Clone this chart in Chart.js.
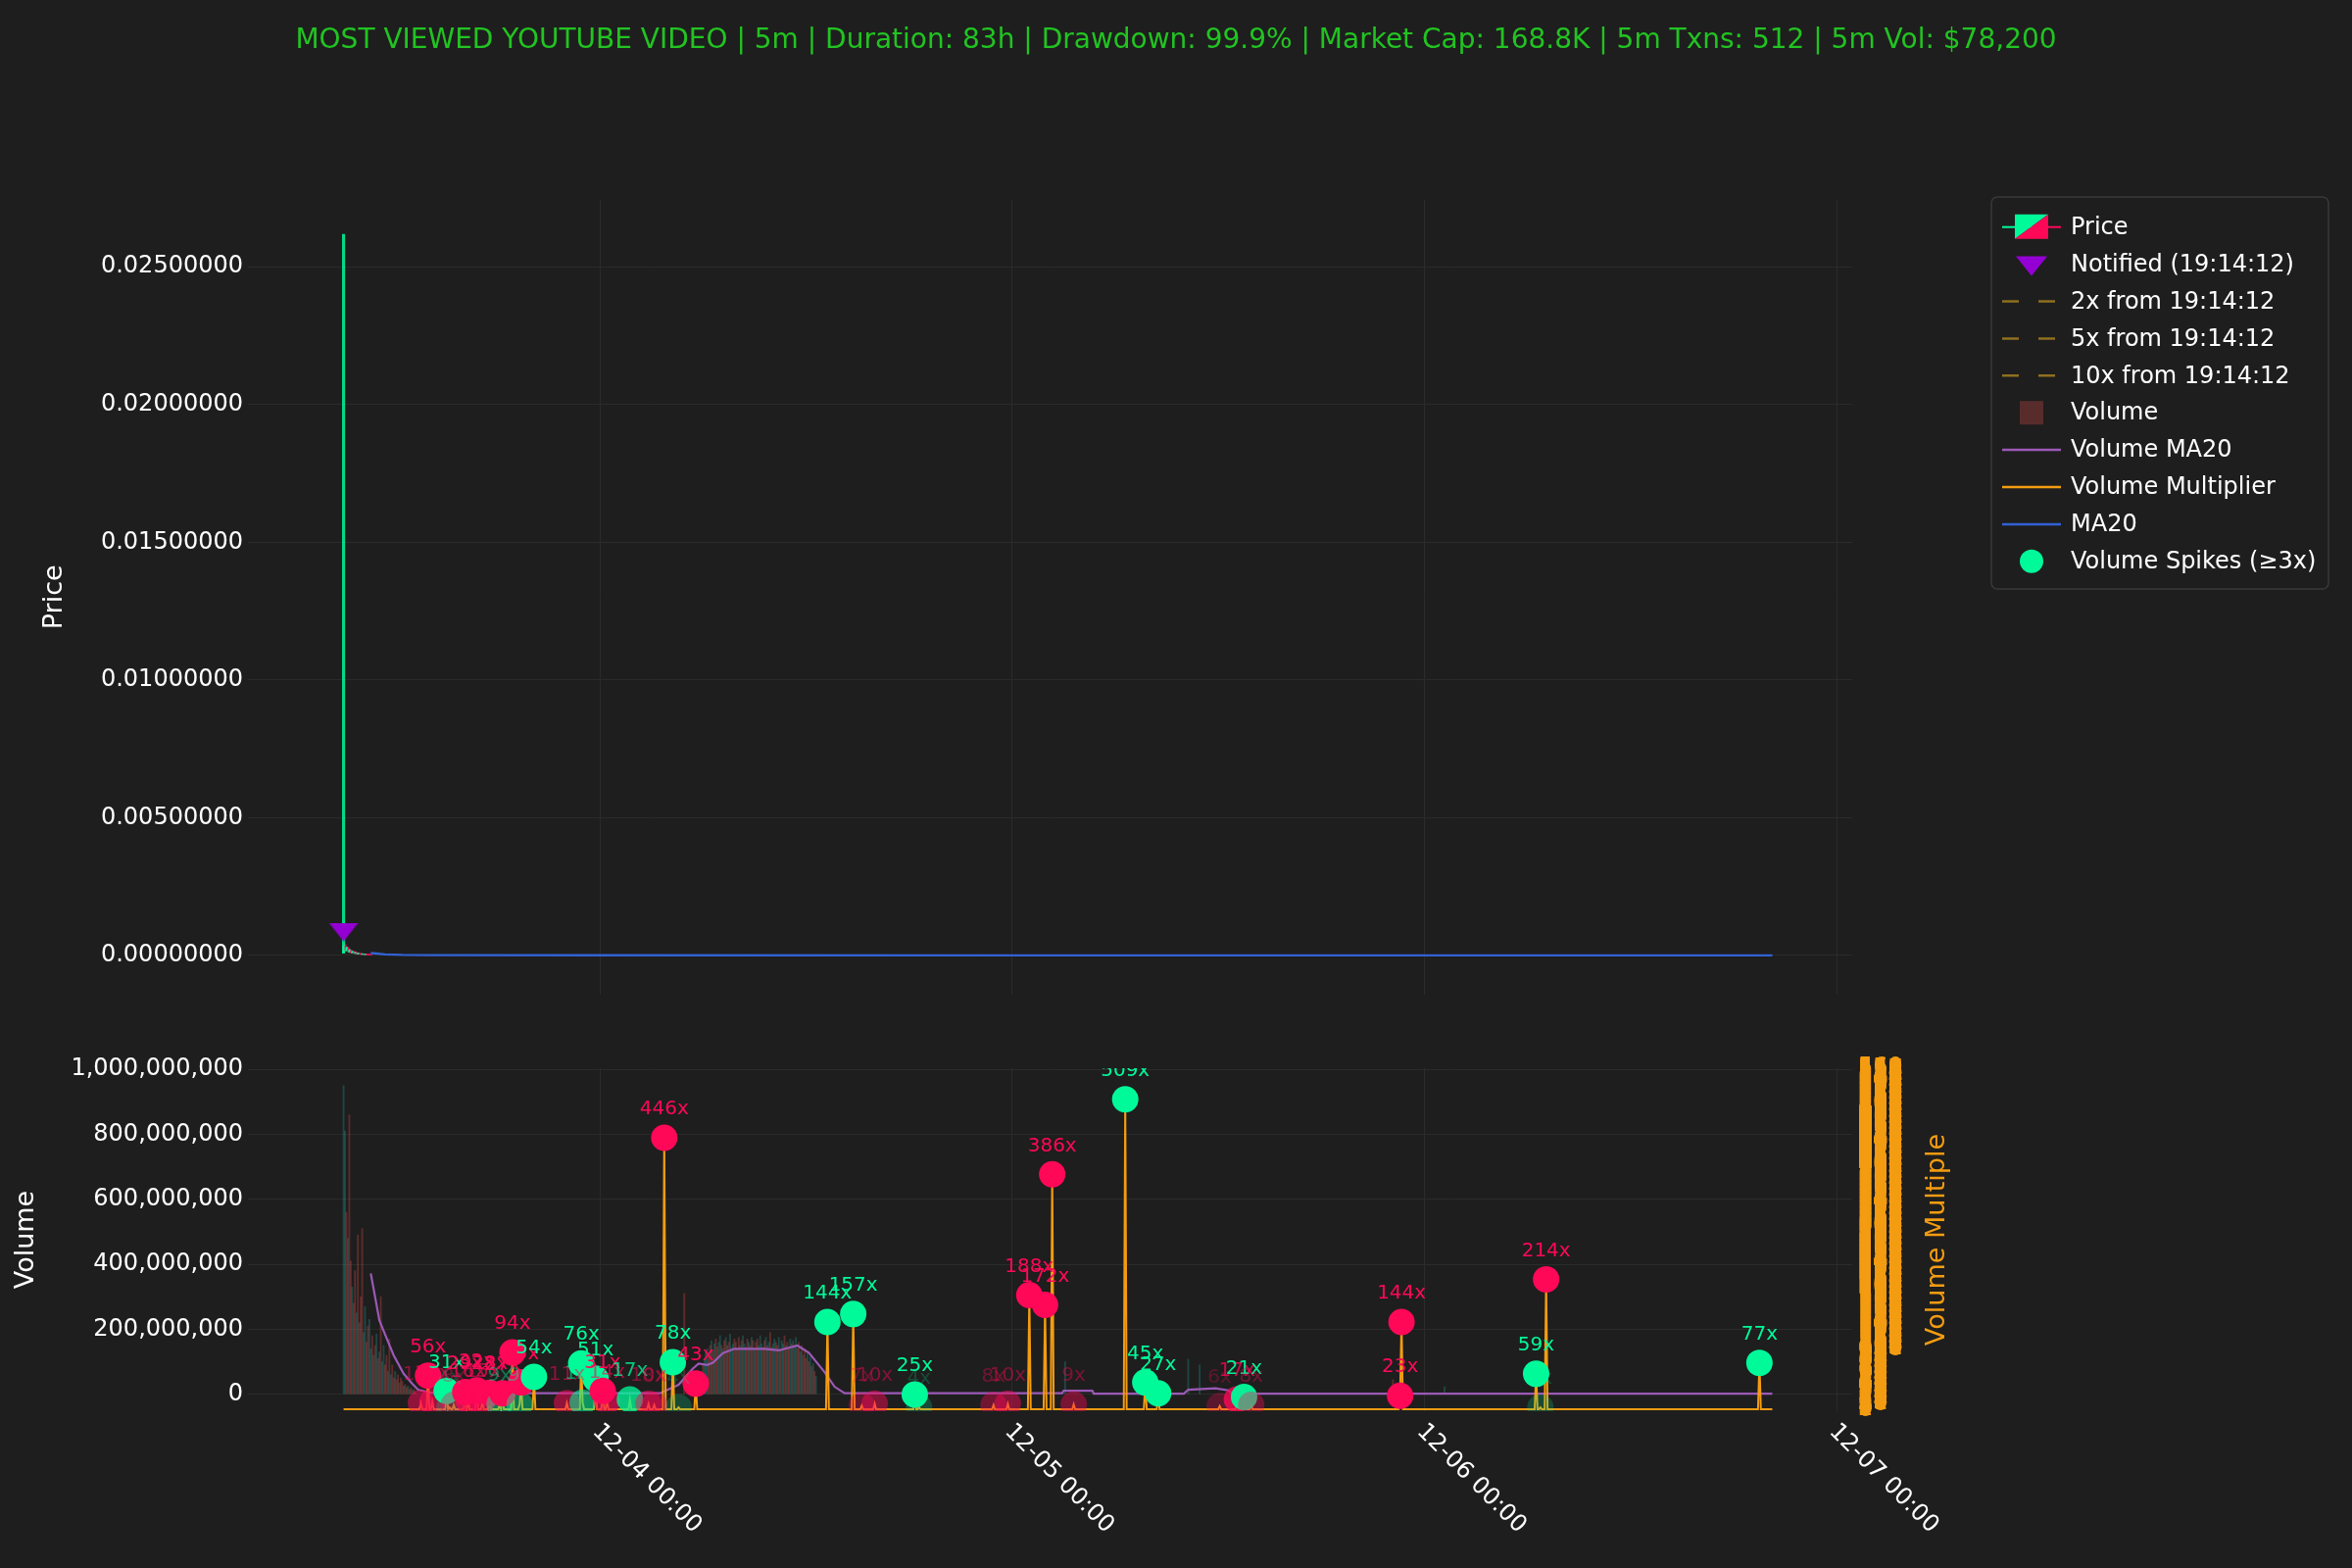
<!DOCTYPE html>
<html>
<head>
<meta charset="utf-8">
<script src="https://cdn.jsdelivr.net/npm/chart.js@4.4.1/dist/chart.umd.min.js"></script>
<style>
  html, body { margin: 0; padding: 0; background: #1e1e1e; }
  #wrap { position: relative; width: 2400px; height: 1600px; }
  #c1 { position: absolute; left: 0; top: 0; width: 2400px; height: 1050px; }
  #c2 { position: absolute; left: 0; top: 1050px; width: 2400px; height: 550px; }
</style>
</head>
<body>
<div id="wrap">
  <canvas id="c1" width="2400" height="1050"></canvas>
  <canvas id="c2" width="2400" height="550"></canvas>
</div>
<script>
// ------------------------------------------------------------------ data
const titleText = 'MOST VIEWED YOUTUBE VIDEO | 5m | Duration: 83h | Drawdown: 99.9% | Market Cap: 168.8K | 5m Txns: 512 | 5m Vol: $78,200';

const timeRange   = ['2024-12-03T03:31', '2024-12-07T00:54'];
const priceRange  = [-0.001424, 0.02744];
const volumeRange = [-52.2e6, 1003.6e6];
const multRange   = [-2.25, 560];

// price candles, 5-minute, starting at candleStart
const candleStart = '2024-12-03T09:05';
const candleOpen  = [0.00010,0.00034,0.00020,0.00027,0.00015,0.00019,0.00011,0.00014,0.00009,0.00010,0.00007,0.00008,0.00006,0.00005,0.00006,0.00004,0.000045,0.00004,0.000035,0.00003];
const candleHigh  = [0.02618,0.00040,0.00031,0.00029,0.00022,0.00020,0.00016,0.00015,0.00012,0.00011,0.00009,0.00008,0.00007,0.00007,0.00006,0.00005,0.00005,0.000045,0.00004,0.000035];
const candleLow   = [0.00008,0.00018,0.00016,0.00014,0.00012,0.00010,0.00009,0.00008,0.00007,0.00006,0.00005,0.00005,0.00004,0.00004,0.00004,0.00003,0.00003,0.00003,0.000025,0.00002];
const candleClose = [0.00034,0.00020,0.00027,0.00015,0.00019,0.00011,0.00014,0.00009,0.00010,0.00007,0.00008,0.00006,0.00005,0.00006,0.00004,0.000045,0.00004,0.000035,0.00003,0.000025];

// price MA20
const priceMaTimes  = ['2024-12-03T10:40','2024-12-03T11:00','2024-12-03T11:30','2024-12-03T12:30','2024-12-03T14:00','2024-12-04T00:00','2024-12-05T00:00','2024-12-06T00:00','2024-12-06T20:15'];
const priceMaValues = [0.00009,0.00007,0.00004,0.00002,0.000012,0.000008,0.000005,0.000004,0.000003];

// notification marker
const notifiedTime  = '2024-12-03T09:05';
const notifiedPrice = 0.00085;

// volume bars: early burst (5-minute)
const volStartA  = '2024-12-03T09:05';
const volValuesA = [950e6,810e6,560e6,480e6,860e6,410e6,330e6,280e6,380e6,250e6,
                    490e6,220e6,300e6,510e6,190e6,270e6,160e6,210e6,230e6,140e6,
                    180e6,120e6,150e6,185e6,110e6,130e6,300e6,100e6,150e6,90e6,
                    120e6,70e6,170e6,60e6,90e6,50e6,70e6,45e6,60e6,35e6,
                    50e6,40e6,25e6,30e6,20e6,25e6,15e6,20e6,12e6,15e6,10e6];
const volSidesA  = 'ggrgrrgrrg' + 'rgrrggrrgg' + 'rgrgrgrggr' + 'rgrgrrgrrg' + 'rrgrrgrrgrr';

// volume bars: plateau (5-minute)
const volStartC  = '2024-12-04T05:55';
const volValuesC = [70e6,95e6,110e6,128e6,140e6,120e6,150e6,165e6,135e6,155e6,
                    170e6,145e6,160e6,180e6,150e6,140e6,165e6,175e6,150e6,160e6,
                    185e6,145e6,155e6,170e6,160e6,140e6,175e6,150e6,165e6,180e6,
                    155e6,145e6,170e6,160e6,150e6,175e6,165e6,140e6,160e6,170e6,
                    150e6,180e6,155e6,145e6,165e6,175e6,150e6,160e6,190e6,145e6,
                    155e6,170e6,160e6,150e6,175e6,140e6,165e6,155e6,180e6,150e6,
                    160e6,145e6,170e6,155e6,165e6,150e6,175e6,140e6,160e6,130e6,
                    150e6,120e6,140e6,110e6,130e6,100e6,115e6,85e6,95e6,70e6,
                    55e6];
const volSidesC  = 'grgggrrgrg' + 'rrggrgrgrr' + 'gggrrgrgrg' + 'grrgrgrgrr' + 'gggrrgrgrr' + 'ggrrgrggrg' + 'rrgrgggrrg' + 'rgrrgrgrgr' + 'g';

// isolated volume bars
const volExtraTimes  = ['2024-12-04T04:55','2024-12-05T03:05','2024-12-05T10:15','2024-12-05T10:55','2024-12-05T22:10','2024-12-06T01:10'];
const volExtraValues = [310e6,100e6,108e6,90e6,45e6,23e6];
const volExtraSides  = 'rgggrg';

// volume MA20
const volMaTimes  = ['2024-12-03T10:40','2024-12-03T11:10','2024-12-03T11:25','2024-12-03T12:00','2024-12-03T12:35','2024-12-03T13:05','2024-12-03T13:25','2024-12-03T14:10','2024-12-03T20:30',
                     '2024-12-04T03:30','2024-12-04T04:35','2024-12-04T05:25','2024-12-04T05:45','2024-12-04T06:15','2024-12-04T06:35','2024-12-04T07:10','2024-12-04T07:50','2024-12-04T09:35','2024-12-04T10:25','2024-12-04T11:30','2024-12-04T12:10','2024-12-04T13:05','2024-12-04T13:40','2024-12-04T14:15',
                     '2024-12-05T02:55','2024-12-05T03:00','2024-12-05T04:40','2024-12-05T04:45','2024-12-05T10:00','2024-12-05T10:15','2024-12-05T11:50','2024-12-05T12:35','2024-12-05T12:50','2024-12-06T20:15'];
const volMaValues = [372e6,228e6,195e6,120e6,63e6,32e6,14e6,5e6,3e6,
                     3e6,29e6,79e6,94e6,90e6,97e6,127e6,140e6,140e6,135e6,150e6,128e6,68e6,23e6,3e6,
                     3e6,11e6,11e6,2e6,2e6,14e6,18e6,12e6,2e6,2e6];

// volume spikes (multiplier, side r = down candle, g = up candle)
const spikeTimes = ['2024-12-03T13:35','2024-12-03T14:00','2024-12-03T14:15','2024-12-03T15:05','2024-12-03T15:15','2024-12-03T15:30','2024-12-03T16:10','2024-12-03T16:20','2024-12-03T16:50','2024-12-03T17:10',
                    '2024-12-03T17:35','2024-12-03T18:10','2024-12-03T18:20','2024-12-03T18:55','2024-12-03T19:20','2024-12-03T19:25','2024-12-03T20:10','2024-12-03T22:05','2024-12-03T22:55','2024-12-03T23:00',
                    '2024-12-03T23:45','2024-12-04T00:10','2024-12-04T00:25','2024-12-04T01:45','2024-12-04T02:50','2024-12-04T03:10','2024-12-04T03:45','2024-12-04T04:15','2024-12-04T04:35','2024-12-04T05:35',
                    '2024-12-04T13:15','2024-12-04T14:45','2024-12-04T15:15','2024-12-04T16:00','2024-12-04T18:20','2024-12-04T18:35','2024-12-04T22:55','2024-12-04T23:45','2024-12-05T01:00','2024-12-05T01:55',
                    '2024-12-05T02:20','2024-12-05T03:35','2024-12-05T06:35','2024-12-05T07:45','2024-12-05T08:30','2024-12-05T12:05','2024-12-05T13:05','2024-12-05T13:30','2024-12-05T13:55','2024-12-05T22:35',
                    '2024-12-05T22:40','2024-12-06T06:30','2024-12-06T06:45','2024-12-06T07:05','2024-12-06T19:30'];
const spikeMults = [11,56,13,31,4,8,29,16,32,15,
                    28,9,27,94,9,45,54,11,76,12,
                    51,31,14,17,10,8,446,78,4,43,
                    144,157,7,10,25,4,8,10,188,172,
                    386,9,509,45,27,6,17,21,8,23,
                    144,59,4,214,77];
const spikeSides = 'rrrggrrrrr' + 'rgrrgrgrgg' + 'grrgrrrggr' + 'ggrrggrrrr' + 'rrgggrrgrr' + 'rggrg';

// multiplier line rests on this value between spikes
const multBaseline = 1;
const multEnds = ['2024-12-03T09:05', '2024-12-06T20:15'];

const legendLabels = ['Price', 'Notified (19:14:12)', '2x from 19:14:12', '5x from 19:14:12', '10x from 19:14:12',
                      'Volume', 'Volume MA20', 'Volume Multiplier', 'MA20', 'Volume Spikes (\u22653x)'];

// ------------------------------------------------------------------ styles / helpers
const HOUR = 3600000, FIVE_MIN_H = 5 / 60, MILLION = 1e6;
const EPOCH = Date.parse('2024-12-03T00:00:00Z');
const H = s => (Date.parse(s + ':00Z') - EPOCH) / HOUR;   // hours since 12-03 00:00 UTC
const GRID = '#2b2b2b';
const FONT = '"DejaVu Sans", sans-serif';
const C_GREEN = [0, 250, 154], C_RED = [255, 8, 88];
const col = (c, a) => `rgba(${c[0]},${c[1]},${c[2]},${a})`;
const VOL_G = 'rgba(38,166,154,0.30)', VOL_R = 'rgba(239,83,80,0.30)';
const ORANGE = '#f39c12', PURPLE = '#9b59b6', BLUE = 'rgba(52,101,221,0.95)';
const DASHC = 'rgba(218,165,32,0.6)';
const TRI_COLOR = '#9400d3';

Chart.defaults.font.family = FONT;
Chart.defaults.color = '#ffffff';

function fmtDay(hours) {
  const d = new Date(EPOCH + hours * HOUR);
  const p = n => String(n).padStart(2, '0');
  return `${p(d.getUTCMonth() + 1)}-${p(d.getUTCDate())} ${p(d.getUTCHours())}:${p(d.getUTCMinutes())}`;
}

function triImage(w, h, color) {
  const c = document.createElement('canvas');
  c.width = w; c.height = h;
  const g = c.getContext('2d');
  g.fillStyle = color;
  g.beginPath(); g.moveTo(0, 0); g.lineTo(w, 0); g.lineTo(w / 2, h); g.closePath(); g.fill();
  return c;
}

// ------------------------------------------------------------------ price chart
const candles = candleOpen.map((o, i) => ({x: H(candleStart) + i * FIVE_MIN_H, o, h: candleHigh[i], l: candleLow[i], c: candleClose[i]}));
const upC = candles.filter(c => c.c >= c.o), dnC = candles.filter(c => c.c < c.o);

const legendPlugin = {
  id: 'customLegend',
  afterDraw(chart) {
    const ctx = chart.ctx;
    const bx = 2032, by = 201, bw = 344, bh = 400;
    ctx.save();
    ctx.beginPath();
    if (ctx.roundRect) ctx.roundRect(bx, by, bw, bh, 6); else ctx.rect(bx, by, bw, bh);
    ctx.fillStyle = '#1e1e1e'; ctx.fill();
    ctx.lineWidth = 1.5; ctx.strokeStyle = 'rgba(255,255,255,0.12)'; ctx.stroke();
    const y0 = 231.7, dy = 37.9, lx0 = 2043, lx1 = 2103, cx = 2073, tx = 2113;
    legendLabels.forEach((lab, k) => {
      const y = y0 + k * dy;
      ctx.save();
      if (k === 0) {
        ctx.lineWidth = 2;
        ctx.strokeStyle = col(C_GREEN, 1); ctx.beginPath(); ctx.moveTo(lx0, y); ctx.lineTo(cx, y); ctx.stroke();
        ctx.strokeStyle = col(C_RED, 1); ctx.beginPath(); ctx.moveTo(cx, y); ctx.lineTo(lx1, y); ctx.stroke();
        const x = 2056, t = y - 13, w = 34, h = 25;
        ctx.fillStyle = col(C_GREEN, 1); ctx.beginPath(); ctx.moveTo(x, t); ctx.lineTo(x + w, t); ctx.lineTo(x, t + h); ctx.closePath(); ctx.fill();
        ctx.fillStyle = col(C_RED, 1); ctx.beginPath(); ctx.moveTo(x + w, t); ctx.lineTo(x + w, t + h); ctx.lineTo(x, t + h); ctx.closePath(); ctx.fill();
      } else if (k === 1) {
        ctx.fillStyle = TRI_COLOR; ctx.beginPath(); ctx.moveTo(cx - 16, y - 8); ctx.lineTo(cx + 16, y - 8); ctx.lineTo(cx, y + 12); ctx.closePath(); ctx.fill();
      } else if (k >= 2 && k <= 4) {
        ctx.strokeStyle = DASHC; ctx.lineWidth = 2.5; ctx.setLineDash([17, 20]);
        ctx.beginPath(); ctx.moveTo(lx0, y); ctx.lineTo(lx1, y); ctx.stroke();
      } else if (k === 5) {
        ctx.fillStyle = 'rgba(239,83,80,0.28)'; ctx.fillRect(2061, y - 12, 24, 24);
      } else if (k === 9) {
        ctx.fillStyle = col(C_GREEN, 1); ctx.beginPath(); ctx.arc(cx, y, 12, 0, Math.PI * 2); ctx.fill();
      } else {
        ctx.strokeStyle = k === 6 ? PURPLE : k === 7 ? ORANGE : BLUE; ctx.lineWidth = 2.5;
        ctx.beginPath(); ctx.moveTo(lx0, y); ctx.lineTo(lx1, y); ctx.stroke();
      }
      ctx.restore();
      ctx.fillStyle = '#ffffff'; ctx.font = '24px ' + FONT; ctx.textAlign = 'left'; ctx.textBaseline = 'middle';
      ctx.fillText(lab, tx, y + 1);
    });
    ctx.restore();
  }
};

new Chart(document.getElementById('c1'), {
  type: 'scatter',
  data: {
    datasets: [
      {type: 'bar', label: 'Price', data: upC.map(c => ({x: c.x, y: [c.l, c.h]})), backgroundColor: col(C_GREEN, 0.85), barThickness: 2.5, grouped: false, order: 6},
      {type: 'bar', label: 'Price wick down', data: dnC.map(c => ({x: c.x, y: [c.l, c.h]})), backgroundColor: col(C_RED, 0.85), barThickness: 2.5, grouped: false, order: 6},
      {type: 'bar', label: 'Price body up', data: upC.map(c => ({x: c.x, y: [c.o, c.c]})), backgroundColor: col(C_GREEN, 1), barThickness: 1.4, grouped: false, order: 5},
      {type: 'bar', label: 'Price body down', data: dnC.map(c => ({x: c.x, y: [c.c, c.o]})), backgroundColor: col(C_RED, 1), barThickness: 1.4, grouped: false, order: 5},
      {type: 'line', label: 'MA20', data: priceMaTimes.map((t, i) => ({x: H(t), y: priceMaValues[i]})), borderColor: BLUE, borderWidth: 2.4, pointRadius: 0, order: 2},
      {type: 'scatter', label: 'Notified (19:14:12)', data: [{x: H(notifiedTime), y: notifiedPrice}], pointStyle: triImage(30, 19, TRI_COLOR), pointRadius: 15, order: 1},
      {type: 'line', label: '2x from 19:14:12', data: [], borderColor: DASHC, borderDash: [8, 8]},
      {type: 'line', label: '5x from 19:14:12', data: [], borderColor: DASHC, borderDash: [8, 8]},
      {type: 'line', label: '10x from 19:14:12', data: [], borderColor: DASHC, borderDash: [8, 8]}
    ]
  },
  options: {
    responsive: false, devicePixelRatio: 1, animation: false, events: [],
    layout: {padding: 0},
    plugins: {
      legend: {display: false}, tooltip: {enabled: false},
      title: {display: true, text: titleText, color: '#22c322', font: {size: 28, weight: 'normal'}, padding: {top: 25, bottom: 145}}
    },
    scales: {
      x: {type: 'linear', min: H(timeRange[0]), max: H(timeRange[1]), offset: false,
          border: {display: false}, grid: {color: GRID, drawTicks: false, offset: false},
          ticks: {display: false, stepSize: 24, includeBounds: false},
          afterFit: s => { s.height = 35; }},
      y: {type: 'linear', position: 'left', min: priceRange[0], max: priceRange[1],
          border: {display: false}, grid: {color: GRID, drawTicks: false},
          ticks: {stepSize: 0.005, includeBounds: false, padding: 5, font: {size: 24}, color: '#ffffff', callback: v => Number(v).toFixed(8)},
          title: {display: true, text: 'Price', color: '#ffffff', font: {size: 27}, padding: {top: 40, bottom: 0}},
          afterFit: s => { s.width = 253; }},
      yr: {type: 'linear', position: 'right', display: true, grid: {display: false, drawTicks: false}, border: {display: false},
           ticks: {display: false}, afterFit: s => { s.width = 510; }}
    }
  },
  plugins: [legendPlugin]
});

// ------------------------------------------------------------------ volume chart (volume axis in millions)
const volBars = [];
volValuesA.forEach((v, i) => volBars.push({x: H(volStartA) + i * FIVE_MIN_H, y: v / MILLION, s: volSidesA[i]}));
volValuesC.forEach((v, i) => volBars.push({x: H(volStartC) + i * FIVE_MIN_H, y: v / MILLION, s: volSidesC[i]}));
volExtraTimes.forEach((t, i) => volBars.push({x: H(t), y: volExtraValues[i] / MILLION, s: volExtraSides[i]}));

const spikeAlpha = m => Math.min(1, Math.max(0.2, m / 22));
const spikeColor = i => col(spikeSides[i] === 'g' ? C_GREEN : C_RED, spikeAlpha(spikeMults[i]));
const spikePts = spikeTimes.map((t, i) => ({x: H(t), y: spikeMults[i]}));

const key = x => Math.round(x * 12);
const spikeSet = new Set(spikePts.map(p => key(p.x)));
const multMap = new Map();
multEnds.forEach(t => multMap.set(key(H(t)), {x: H(t), y: multBaseline}));
spikePts.forEach(p => {
  [p.x - FIVE_MIN_H, p.x + FIVE_MIN_H].forEach(b => {
    if (!spikeSet.has(key(b)) && !multMap.has(key(b))) multMap.set(key(b), {x: b, y: multBaseline});
  });
});
spikePts.forEach(p => multMap.set(key(p.x), {x: p.x, y: p.y}));
const multLine = [...multMap.values()].sort((a, b) => a.x - b.x);

const SPIKE_IDX = 4;
const volPlugin = {
  id: 'volExtras',
  afterDatasetsDraw(chart) {
    const {ctx, chartArea: a} = chart;
    const meta = chart.getDatasetMeta(SPIKE_IDX);
    ctx.save();
    ctx.beginPath(); ctx.rect(a.left, a.top, a.right - a.left, a.bottom - a.top); ctx.clip();
    ctx.font = '20px ' + FONT; ctx.textAlign = 'center'; ctx.textBaseline = 'middle';
    meta.data.forEach((pt, i) => {
      ctx.fillStyle = spikeColor(i);
      ctx.fillText(spikeMults[i] + 'x', pt.x, pt.y - 29);
    });
    ctx.restore();
  },
  afterDraw(chart) {
    const {ctx, chartArea: a} = chart;
    const xs = chart.scales.x;
    ctx.save();
    ctx.font = '24px ' + FONT; ctx.fillStyle = '#ffffff'; ctx.textAlign = 'left'; ctx.textBaseline = 'middle';
    xs.ticks.forEach(t => {
      const px = xs.getPixelForValue(t.value);
      ctx.save();
      ctx.translate(px - 4, a.bottom + 17);
      ctx.rotate(Math.PI / 4);
      ctx.fillText(fmtDay(t.value), 0, 0);
      ctx.restore();
    });
    ctx.save();
    ctx.translate(1977, (a.top + a.bottom) / 2);
    ctx.rotate(-Math.PI / 2);
    ctx.font = '27px ' + FONT; ctx.fillStyle = ORANGE; ctx.textAlign = 'center'; ctx.textBaseline = 'middle';
    ctx.fillText('Volume Multiple', 0, 0);
    ctx.restore();
    ctx.restore();
  }
};

new Chart(document.getElementById('c2'), {
  type: 'scatter',
  data: {
    datasets: [
      {type: 'bar', label: 'Volume', yAxisID: 'yv', data: volBars.filter(b => b.s === 'r'), backgroundColor: VOL_R, barThickness: 1.2, grouped: false, order: 7},
      {type: 'bar', label: 'Volume up', yAxisID: 'yv', data: volBars.filter(b => b.s === 'g'), backgroundColor: VOL_G, barThickness: 1.2, grouped: false, order: 7},
      {type: 'line', label: 'Volume MA20', yAxisID: 'yv', data: volMaTimes.map((t, i) => ({x: H(t), y: volMaValues[i] / MILLION})), borderColor: PURPLE, borderWidth: 2.2, pointRadius: 0, order: 4},
      {type: 'line', label: 'Volume Multiplier', yAxisID: 'y2', data: multLine, borderColor: ORANGE, borderWidth: 2, pointRadius: 0, order: 3, clip: 0},
      {type: 'scatter', label: 'Volume Spikes (\u22653x)', yAxisID: 'y2', data: spikePts, pointRadius: 13.5, pointBorderWidth: 0,
       pointBackgroundColor: spikeTimes.map((t, i) => spikeColor(i)), order: 1, clip: 0}
    ]
  },
  options: {
    responsive: false, devicePixelRatio: 1, animation: false, events: [],
    layout: {padding: {top: 40, left: 0, right: 0, bottom: 0}},
    plugins: {legend: {display: false}, tooltip: {enabled: false}, title: {display: false}},
    scales: {
      x: {type: 'linear', min: H(timeRange[0]), max: H(timeRange[1]), offset: false,
          border: {display: false}, grid: {color: GRID, drawTicks: false, offset: false},
          ticks: {display: false, stepSize: 24, includeBounds: false},
          afterFit: s => { s.height = 160; }},
      yv: {type: 'linear', axis: 'y', position: 'left', min: volumeRange[0] / MILLION, max: volumeRange[1] / MILLION,
           border: {display: false}, grid: {color: GRID, drawTicks: false},
           ticks: {stepSize: 200, includeBounds: false, padding: 5, font: {size: 24}, color: '#ffffff',
                   callback: v => Math.round(v * MILLION).toLocaleString('en-US')},
           title: {display: true, text: 'Volume', color: '#ffffff', font: {size: 27}, padding: {top: 11, bottom: 0}},
           afterFit: s => { s.width = 253; }},
      y2: {type: 'linear', axis: 'y', position: 'right', min: multRange[0], max: multRange[1],
           border: {display: false}, grid: {display: false, drawTicks: false},
           ticks: {stepSize: 1, autoSkip: false, includeBounds: false, padding: 6, font: {size: 24}, color: ORANGE,
                   callback: v => (v >= 0 ? String(v) : '')},
           afterFit: s => { s.width = 510; }}
    }
  },
  plugins: [volPlugin]
});
</script>
</body>
</html>
